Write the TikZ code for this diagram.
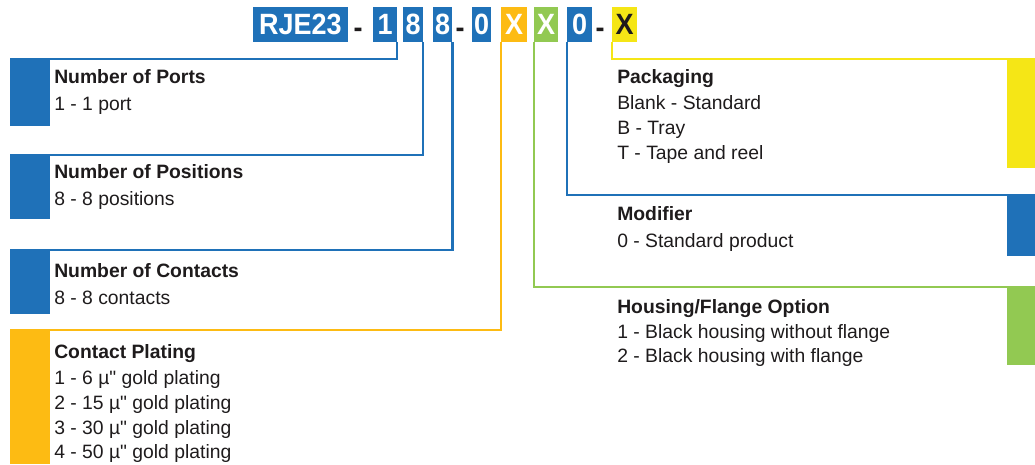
\documentclass[tikz,border=0pt]{standalone}
\usepackage{fontspec}
\setmainfont{Liberation Sans}[Ligatures=TeXOff]
\newfontfamily\codefont[FakeStretch=0.92]{Liberation Sans}
\usetikzlibrary{positioning}
\definecolor{pnblue}{RGB}{31,113,184}
\definecolor{pnorange}{RGB}{253,187,19}
\definecolor{pngreen}{RGB}{146,201,82}
\definecolor{pnyellow}{RGB}{245,230,22}
\definecolor{pntext}{RGB}{30,27,28}

\begin{document}
\begin{tikzpicture}[
  x=0.75pt, y=-0.75pt,
  every node/.style={inner sep=0pt, text=pntext, font=\fontsize{14.5}{18.6}\selectfont},
  codebox/.style={fill=#1, text=white, minimum height=26.25pt, font=\codefont\bfseries\fontsize{22}{22}\selectfont},
  codedash/.style={anchor=base, font=\codefont\bfseries\fontsize{22}{22}\selectfont},
  ltab/.style={fill=#1, minimum width=30pt, anchor=north west},
  rtab/.style={fill=#1, minimum width=21pt, anchor=north east},
  info/.style={anchor=north west, align=left},
  conn/.style={draw=#1, line width=1.8pt}
]
\useasboundingbox (0,0) rectangle (1035,464);

% part number
\node[codebox=pnblue, minimum width=71.25pt] (base) at (300.5,24.5) {RJE23};
\node[codedash] (d1) at (358,37) {-};
\node[codebox=pnblue, minimum width=18pt] (c1) at (385,24.5) {1};
\node[codebox=pnblue, minimum width=15pt] (c2) at (413,24.5) {8};
\node[codebox=pnblue, minimum width=14.5pt] (c3) at (442.5,24.5) {8};
\node[codedash] (d2) at (460,37) {-};
\node[codebox=pnblue, minimum width=14.5pt] (c4) at (481.5,24.5) {0};
\node[codebox=pnorange, minimum width=19.5pt] (c5) at (514,24.5) {X};
\node[codebox=pngreen, minimum width=18pt] (c6) at (546,24.5) {X};
\node[codebox=pnblue, minimum width=18.75pt] (c7) at (579.5,24.5) {0};
\node[codedash] (d3) at (600,37) {-};
\node[codebox=pnyellow, text=pntext, minimum width=18.75pt] (c8) at (624.5,24.5) {X};

% left side
\node[ltab=pnblue, minimum height=50pt] (tports) at (10,59) {};
\node[ltab=pnblue, minimum height=48pt] (tpos) at (10,155) {};
\node[ltab=pnblue, minimum height=48pt] (tcont) at (10,250) {};
\node[ltab=pnorange, minimum height=100.5pt] (tplat) at (10,330) {};

\node[info] (ports) at (54,69) {\textbf{Number of Ports}\\[1.5pt]1 - 1 port};
\node[info] (pos) at (54,164) {\textbf{Number of Positions}\\[1.5pt]8 - 8 positions};
\node[info] (cont) at (54,263) {\textbf{Number of Contacts}\\[1.5pt]8 - 8 contacts};
\node[info] (plat) at (54,344) {\textbf{Contact Plating}\\[1pt]1 - 6 µ" gold plating\\2 - 15 µ" gold plating\\3 - 30 µ" gold plating\\4 - 50 µ" gold plating};

% right side
\node[rtab=pnyellow, minimum height=81.75pt] (tpack) at (1035,59) {};
\node[rtab=pnblue, minimum height=45.75pt] (tmod) at (1035,195) {};
\node[rtab=pngreen, minimum height=58.5pt] (thous) at (1035,287) {};

\node[info] (pack) at (617,69) {\textbf{Packaging}\\[1pt]Blank - Standard\\B - Tray\\T - Tape and reel};
\node[info] (mod) at (617,206) {\textbf{Modifier}\\[1.5pt]0 - Standard product};
\node[info] (hous) at (617,299) {\textbf{Housing/Flange Option}\\1 - Black housing without flange\\2 - Black housing with flange};

\draw[conn=pnblue] (c1.south east) |- (tports.north west);
\draw[conn=pnblue] (c2.south east) |- (tpos.north west);
\draw[conn=pnblue] (c3.south east) |- (tcont.north west);
\draw[conn=pnorange] (c5.south west) |- (tplat.north west);
\draw[conn=pnyellow] (c8.south west) |- (tpack.north east);
\draw[conn=pnblue] (c7.south west) |- (tmod.north east);
\draw[conn=pngreen] (c6.south west) |- (thous.north east);
\end{tikzpicture}
\end{document}
